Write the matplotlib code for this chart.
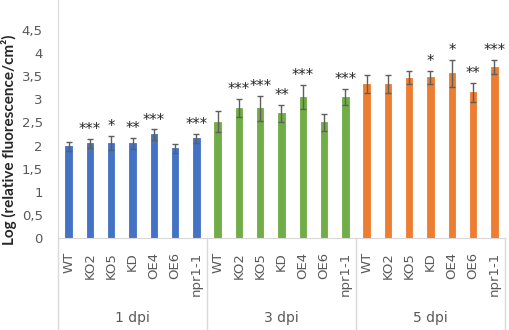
import matplotlib.pyplot as plt
import numpy as np

# Data
genotypes = ['WT', 'KO2', 'KO5', 'KD', 'OE4', 'OE6', 'npr1-1']
groups = ['1 dpi', '3 dpi', '5 dpi']
group_colors = ['#4472C4', '#70AD47', '#ED7D31']

means_1dpi = [1.98, 2.05, 2.05, 2.05, 2.24, 1.94, 2.16]
means_3dpi = [2.52, 2.81, 2.81, 2.70, 3.05, 2.50, 3.05]
means_5dpi = [3.33, 3.33, 3.47, 3.48, 3.56, 3.15, 3.70]

err_1dpi = [0.09, 0.10, 0.15, 0.12, 0.11, 0.09, 0.10]
err_3dpi = [0.23, 0.20, 0.27, 0.18, 0.26, 0.19, 0.18]
err_5dpi = [0.20, 0.20, 0.14, 0.14, 0.30, 0.20, 0.15]

sig_1dpi = ['', '***', '*', '**', '***', '', '***']
sig_3dpi = ['', '***', '***', '**', '***', '', '***']
sig_5dpi = ['', '', '', '*', '*', '**', '***']

yticks = [0, 0.5, 1, 1.5, 2, 2.5, 3, 3.5, 4, 4.5]
ytick_labels = ['0', '0,5', '1', '1,5', '2', '2,5', '3', '3,5', '4', '4,5']

plt.rcParams['font.family'] = ['DejaVu Sans']

W, H = 510, 330
fig = plt.figure(figsize=(W / 100, H / 100), dpi=100)
ax_left, ax_right, ax_bottom = 58, 505, 238
ax = fig.add_axes([ax_left / W, (H - ax_bottom) / H, (ax_right - ax_left) / W, ax_bottom / H])

means = [means_1dpi, means_3dpi, means_5dpi]
errs = [err_1dpi, err_3dpi, err_5dpi]
sigs = [sig_1dpi, sig_3dpi, sig_5dpi]
n = len(genotypes)

for g in range(len(groups)):
    x = np.arange(n) + g * n
    ax.bar(x, means[g], width=0.3, color=group_colors[g], edgecolor=group_colors[g],
           linewidth=0.6, zorder=2)
    ax.errorbar(x, means[g], yerr=errs[g], fmt='none', ecolor='#5e5e5e',
                elinewidth=1.0, capsize=2.2, capthick=1.0, zorder=3)
    for xi, m, e, s in zip(x, means[g], errs[g], sigs[g]):
        if s:
            ax.annotate(s, (xi, m + e), xytext=(0, 3.5), textcoords='offset points',
                        ha='center', va='baseline', fontsize=10.5, color='#262626')

ax.set_xlim(-0.5, 3 * n - 0.5)
ax.set_ylim(0, 5.15)
ax.set_yticks(yticks)
ax.set_yticklabels(ytick_labels, fontsize=9.5, color='#595959')
ax.tick_params(axis='y', length=0, pad=11)

ax.set_xticks(np.arange(3 * n))
ax.set_xticklabels(genotypes * 3, rotation=90, fontsize=9.5, color='#595959')
ax.tick_params(axis='x', length=0, pad=10)

for side in ['top', 'right']:
    ax.spines[side].set_visible(False)
ax.spines['bottom'].set_color('#d9d9d9')
ax.spines['left'].set_color('#d9d9d9')

# group separators and group labels below the axis
bottom_ax = -(H - ax_bottom) / ax_bottom
trans = ax.get_xaxis_transform()
for xs in [-0.5, n - 0.5, 2 * n - 0.5, 3 * n - 0.5]:
    ax.plot([xs, xs], [0, bottom_ax], transform=trans, color='#d9d9d9',
            linewidth=1.0, clip_on=False)
for g, name in enumerate(groups):
    ax.text(g * n + (n - 1) / 2, -80 / ax_bottom, name, transform=trans,
            ha='center', va='center', fontsize=10, color='#595959')

# y label placed directly in figure pixels so its centre sits where the reference has it
fig.text(9.5 / W, 1 - 140 / H, 'Log (relative fluorescence/cm²)', rotation=90,
         ha='center', va='center', fontsize=11, fontweight='bold', color='#262626',
         family=['Liberation Sans Narrow', 'Lato', 'DejaVu Sans'])

fig.savefig('out.png', dpi=100)
